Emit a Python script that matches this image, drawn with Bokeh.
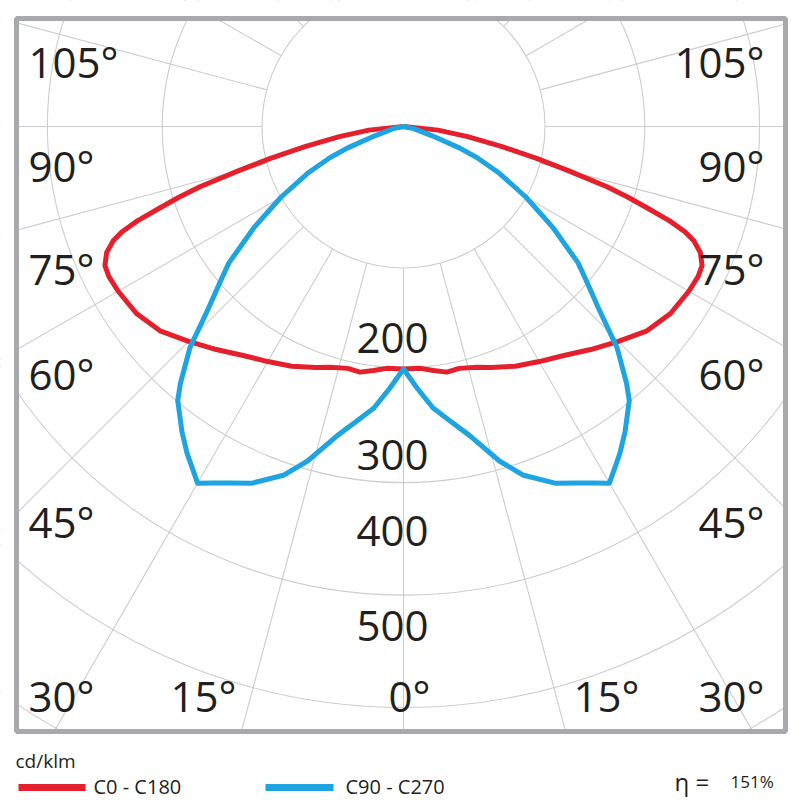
import numpy as np
from bokeh.plotting import figure
from bokeh.models import Range1d
from bokeh.core.properties import value
from bokeh.embed import file_html
from bokeh.resources import INLINE

# ---------------- data (cd/klm), gamma measured from nadir, symmetric halves ----------------
red_gamma = [0, 4, 7, 10, 13, 17, 20, 25, 30, 35, 40, 45, 50, 55, 60, 63, 65, 67, 68.5, 69.5,
             70.5, 71.5, 72.5, 73.5, 75, 76.5, 78.5, 81, 84, 90]
red_cd = [209, 209, 212, 215, 214, 217, 221, 228, 234, 241, 251, 262, 274, 281, 284, 285, 284, 278, 269, 259,
          243, 222, 203, 183, 147, 118, 86, 56, 30, 0]
blue_gamma = [0, 3, 6, 9, 12, 16, 19, 23, 26, 28, 30, 33.5, 36, 39.5, 41, 44, 47, 50, 52, 56,
              60, 64, 67, 69, 72, 78, 90]
blue_cd = [209, 226, 244, 257, 272, 300, 318, 334, 342, 348, 355, 338, 325, 306, 293, 265, 230, 205, 191, 155,
           122, 92, 69, 52, 26, 9, 0]
ring_cd = [122, 208, 307, 404, 501, 599]
spoke_deg = list(range(0, 360, 15))

side_labels = ["105°", "90°", "75°", "60°", "45°", "30°"]
bottom_labels = ["15°", "0°", "15°"]
value_labels = ["200", "300", "400", "500"]
series_names = ["C0 - C180", "C90 - C270"]
unit_label = "cd/klm"
eta_label = "η ="
eta_value = "151%"

# ---------------- layout (pixels) ----------------
W, H = 800, 800
CX, CY, K = 403.0, 126.0, 1.16          # pole position in px, px per cd/klm
FL, FT, FR, FB = 16, 18, 785, 731       # frame edges in px
BASE_FIX = 0.415                        # renderer baseline offset (em)

RED = "#e3202b"
BLUE = "#1ea4e0"
GRID = "#cdcdcd"
FRAME = "#a7a9ac"
TXT = "#231f20"
FONT = value("Open Sans")


def X(px):
    return (np.asarray(px, dtype=float) - CX) / K


def Y(py):
    return (CY - np.asarray(py, dtype=float)) / K


def YB(py, size):
    """baseline position in px -> data y, compensating the text baseline offset"""
    return Y(np.asarray(py, dtype=float) - BASE_FIX * size)


p = figure(width=W, height=H, output_backend="svg", toolbar_location=None,
           x_range=Range1d(X(0), X(W)), y_range=Range1d(Y(H), Y(0)),
           x_axis_type=None, y_axis_type=None, min_border=0)
p.outline_line_color = None
p.background_fill_color = "white"
p.border_fill_color = "white"
p.grid.visible = False

# ---------------- grid ----------------
p.circle(x=[0] * len(ring_cd), y=[0] * len(ring_cd), radius=ring_cd,
         fill_color=None, line_color=GRID, line_width=1.1)
ang = np.radians(spoke_deg)
r0 = ring_cd[0]
r1 = 1200
p.segment(x0=r0 * np.sin(ang), y0=-r0 * np.cos(ang), x1=r1 * np.sin(ang), y1=-r1 * np.cos(ang),
          line_color=GRID, line_width=1.1)


# ---------------- curves ----------------
def full_curve(gamma, cd):
    g = np.radians(np.asarray(gamma, dtype=float))
    v = np.asarray(cd, dtype=float)
    gf = np.concatenate([-g[::-1], g[1:]])
    vf = np.concatenate([v[::-1], v[1:]])
    return vf * np.sin(gf), -vf * np.cos(gf)


xr, yr = full_curve(red_gamma, red_cd)
xb, yb = full_curve(blue_gamma, blue_cd)
p.line(xr, yr, line_color=RED, line_width=5, line_join="round")
p.line(xb, yb, line_color=BLUE, line_width=5, line_join="round")

# ---------------- masks outside frame & frame ----------------
p.quad(left=[X(0), X(0), X(0), X(FR)], right=[X(W), X(W), X(FL), X(W)],
       top=[Y(0), Y(FB), Y(0), Y(0)], bottom=[Y(FT), Y(H), Y(H), Y(H)],
       fill_color="white", line_color=None)
p.quad(left=[X(FL)], right=[X(FR)], top=[Y(FT)], bottom=[Y(FB)],
       fill_color=None, line_color=FRAME, line_width=5)

# ---------------- angle / value labels ----------------
LS = 42
side_base = [78, 182, 285, 390, 538, 712]
p.text(x=[X(28)] * len(side_labels), y=YB(side_base, LS), text=side_labels,
       text_font=FONT, text_font_size=f"{LS}px", text_color=TXT,
       text_align="left", text_baseline="alphabetic")
p.text(x=[X(764)] * len(side_labels), y=YB(side_base, LS), text=side_labels,
       text_font=FONT, text_font_size=f"{LS}px", text_color=TXT,
       text_align="right", text_baseline="alphabetic")
p.text(x=X([170, 388, 573]), y=YB([712] * 3, LS), text=bottom_labels,
       text_font=FONT, text_font_size=f"{LS}px", text_color=TXT,
       text_align="left", text_baseline="alphabetic")
p.text(x=X([392] * 4), y=YB([355, 472, 548, 643], LS), text=value_labels,
       text_font=FONT, text_font_size=f"{LS}px", text_color=TXT,
       text_align="center", text_baseline="alphabetic")

# ---------------- legend ----------------
p.text(x=[X(15)], y=YB([768], 19), text=[unit_label], text_font=FONT, text_font_size="19px",
       text_color=TXT, text_align="left", text_baseline="alphabetic")
p.segment(x0=X([18, 265]), y0=Y([787, 787]), x1=X([85, 333]), y1=Y([787, 787]),
          line_color=[RED, BLUE], line_width=7)
p.text(x=X([93, 345]), y=YB([794, 794], 20), text=series_names, text_font=FONT, text_font_size="20px",
       text_color=TXT, text_align="left", text_baseline="alphabetic")
p.text(x=[X(674)], y=YB([791], 24), text=[eta_label], text_font=FONT, text_font_size="24px",
       text_color=TXT, text_align="left", text_baseline="alphabetic")
p.text(x=[X(730)], y=YB([788], 17), text=[eta_value], text_font=FONT, text_font_size="17px",
       text_color=TXT, text_align="left", text_baseline="alphabetic")

open("out.html", "w").write(file_html(p, INLINE))
